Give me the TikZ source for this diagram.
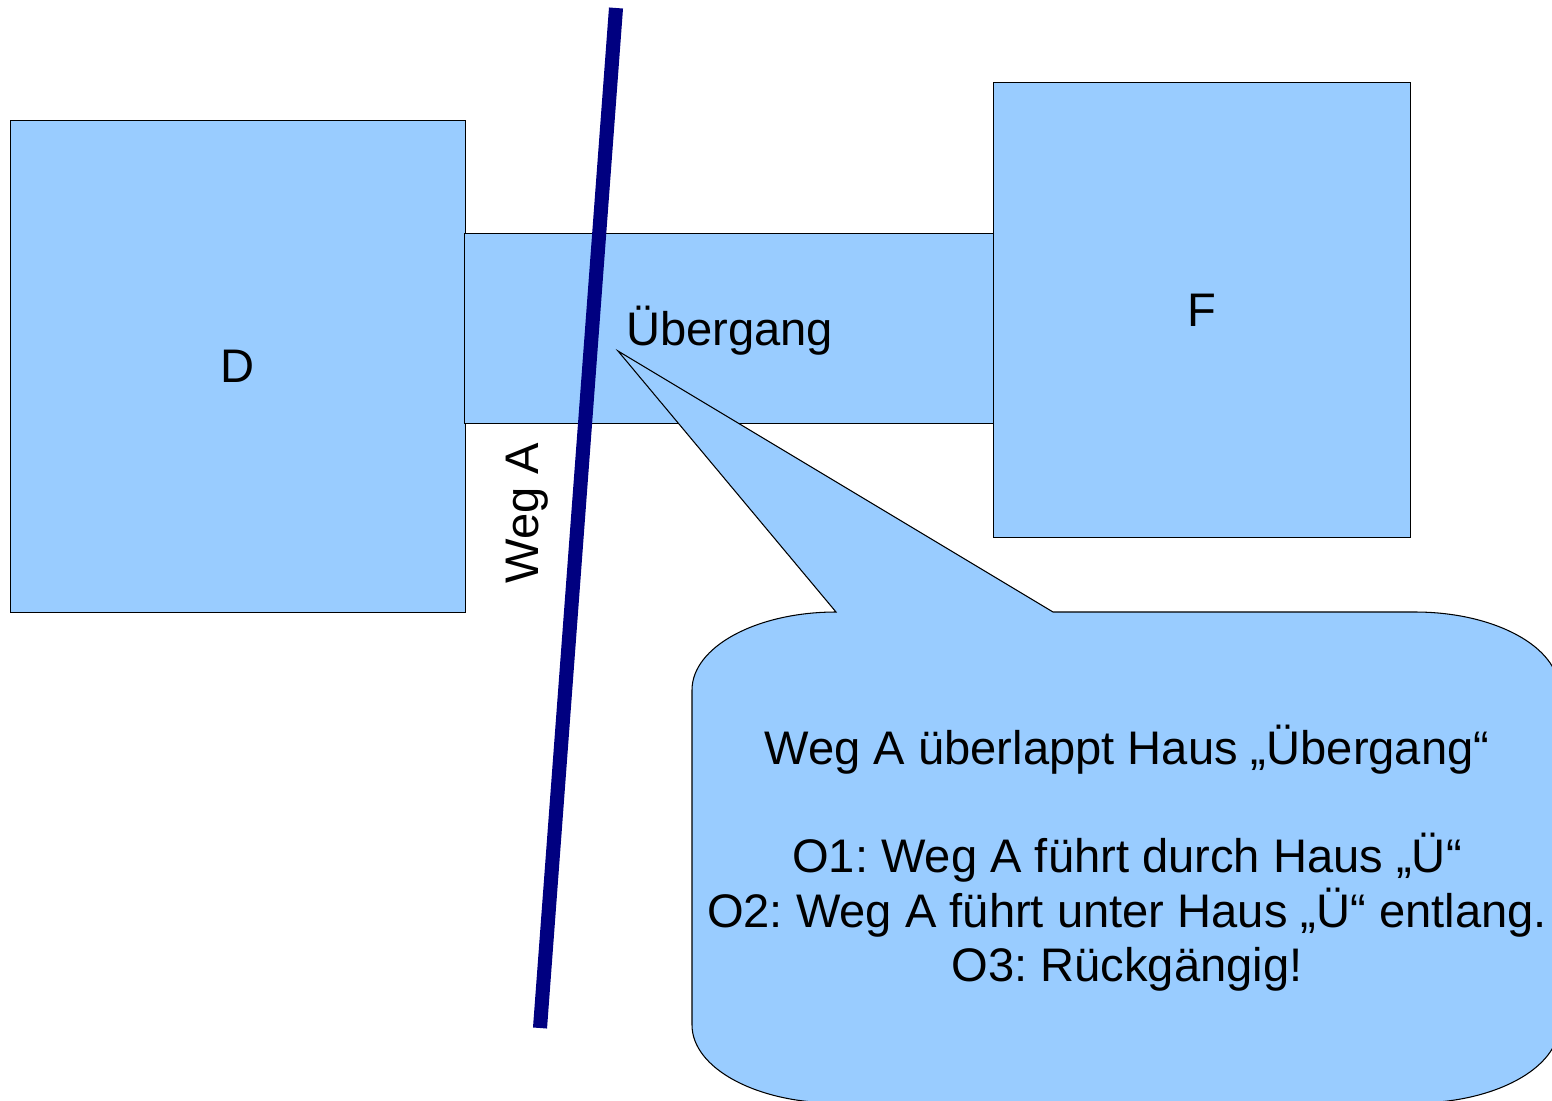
\documentclass[tikz,border=0pt]{standalone}
\usepackage{fontspec}
\setmainfont{Liberation Sans}
\usepackage{tikz}
\usetikzlibrary{positioning}

\definecolor{hausblau}{HTML}{99CCFF}
\definecolor{wegblau}{HTML}{000080}

\frenchspacing

\begin{document}
\begin{tikzpicture}[x=0.01cm, y=-0.01cm,
    haus/.style={rectangle, draw=black, line width=0.3pt, fill=hausblau,
        inner sep=0pt, font=\fontsize{13.4}{15.4}\selectfont},
    weg/.style={line width=4pt, wegblau},
    sprech/.style={fill=hausblau, draw=black, line width=0.3pt}]
    \useasboundingbox (0,0) rectangle (1552,1100);

    % Define nodes
    \node[haus, minimum width=4.54cm, minimum height=4.91cm] (D) at (238,366.5) {D};
    \node[haus, minimum width=5.29cm, minimum height=1.89cm] (U) at (729.5,328.5) {};
    \node[inner sep=0pt, font=\fontsize{13.4}{15.4}\selectfont] (Ulabel) at (729.5,330.5) {Übergang};
    \node[haus, minimum width=4.16cm, minimum height=4.54cm] (F) at (1202,310) {F};

    % Weg A across the Übergang
    \coordinate (wegN) at (616,8);
    \coordinate (wegS) at (540,1028);
    \draw[weg] (wegN) -- (wegS);
    \node[rotate=90, anchor=base, inner sep=0pt, font=\fontsize{13.4}{15.4}\selectfont]
        (wegA) at (538,513) {Weg A};

    % Speech bubble pointing at the Übergang
    \coordinate (tip) at (618,351);
    \filldraw[sprech] (tip) -- (1053,612) -- (1415,612)
        .. controls (1494.5,612) and (1559,646.9) .. (1559,690) -- (1559,1025)
        .. controls (1559,1068.1) and (1494.5,1103) .. (1415,1103) -- (836,1103)
        .. controls (756.5,1103) and (692,1068.1) .. (692,1025) -- (692,690)
        .. controls (692,646.9) and (756.5,612) .. (836,612) -- cycle;
    \node[align=center, inner sep=0pt, font=\fontsize{13.4}{15.4}\selectfont]
        (hinweis) at (1127,858) {Weg A überlappt Haus „Übergang“\\[15.4pt]
        O1: Weg A führt durch Haus „Ü“\\
        O2: Weg A führt unter Haus „Ü“ entlang.\\
        O3: Rückgängig!};
\end{tikzpicture}
\end{document}
